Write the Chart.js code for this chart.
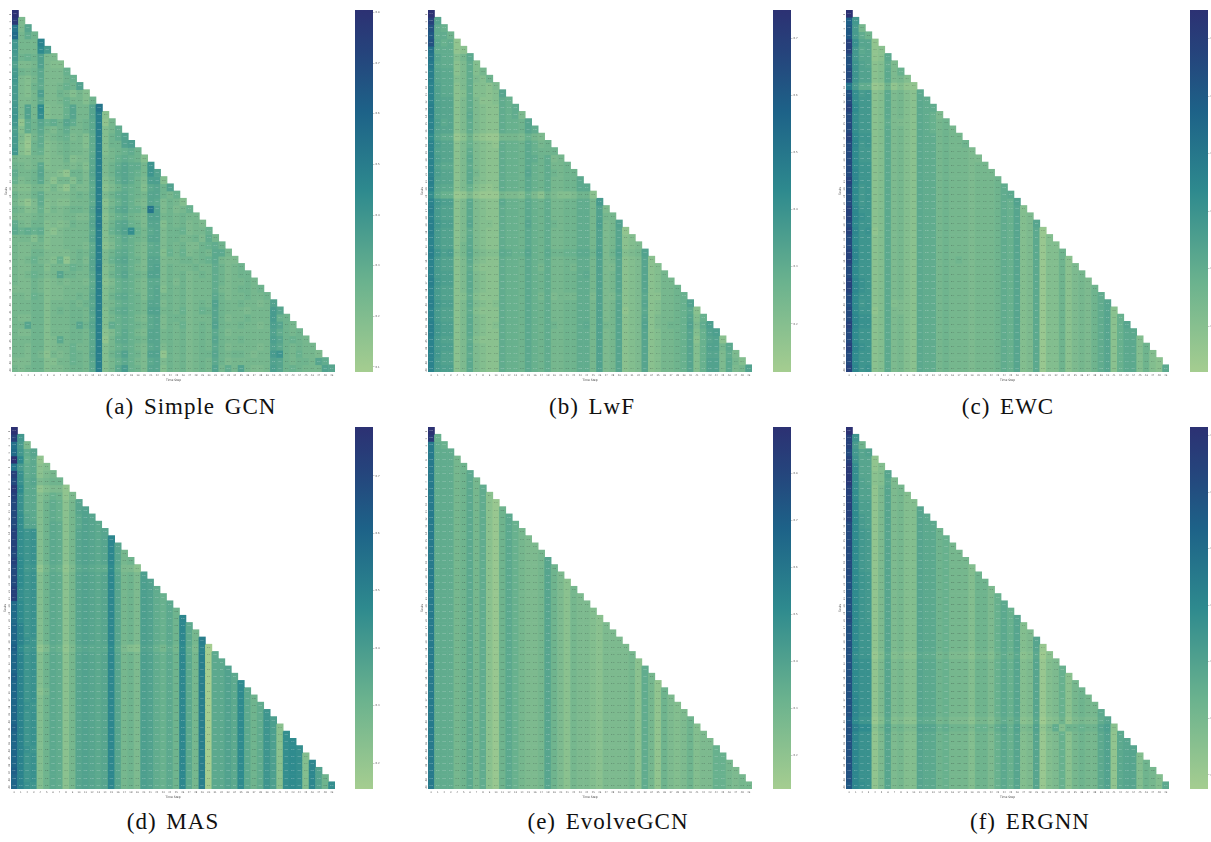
<!DOCTYPE html>
<html>
<head>
<meta charset="utf-8">
<title>Heatmaps</title>
<script src="https://cdn.jsdelivr.net/npm/chart.js@4"></script>
<style>
html, body { margin: 0; padding: 0; background: #fff; }
body { position: relative; width: 1211px; height: 842px; overflow: hidden; }
canvas { position: absolute; }
.caption { position: absolute; font-family: "Liberation Serif", serif; font-size: 23px; color: #111; white-space: nowrap; transform: translateX(-50%); letter-spacing: 1px; word-spacing: 3px; }
</style>
</head>
<body>
<script>
/* one character per cell, base 36: 0 = lightest end of the colour bar, z = darkest */

const simpleGcnRows = [
"z","y6","p6c","r7a8","g777m","g777kf","f898d66","d667d655","f878b6669","g657b66689",
"f658a66798 d","f657e66875 75","f667b66797 758","g6d7k5669c 77cp","h6d7j5669c 77cn4","g3a8c9a8ca 78bn37","e5a8b768a7 78bn57a","f637a67896 75an58ad","f528a56787 75an588de","g538956787 76an5789a8",
"7667756685 66bn679a98 5","8767b56676 75bn68acaa 7h","a778c66538 86cn68bca9 7hd","9678b64775 86bn57aca8 6ee5","6557757537 66an468a98 5bc8d","8668a66667 87bn68ab98 7cc879","7536a56557 77an479b97 6cb6875","8756957678 87co58bc99 7pd68679","7667866677 66bn479a87 6dd787877","a768856568 77co58bc98 6cc5878676",
"b9a9a54677 77bn59bdj9 7bc6889677 9","7775856677 77cn579b98 7cc6887786 a7","7667756677 76an469a97 6ab6878668 9a8","7668866667 87bn68ab97 6bb5979678 7bb7","7679765937 86cn69bc98 6cc6778878 9b766","7668857779 87co57ab97 6cd6877787 7a8678","7679867c88 77bn58ac98 7dd6878678 7a86788","7668756767 76an469a97 6bb6868677 7a867787","6668756677 77bn579a97 6bc5878677 7a7678878","7769856677 87cn58ab98 6bc7878677 7b86778778",
"7778857778 78bn679a98 7cc6878678 7d87787767 d","7778857878 87cn58ab98 7dd7879679 8c87776777 fc","7668857778 87bn579a97 6bc6888677 7c86778777 f98","77c8857778 c8cn5a9a98 7bc6879678 7d87787767 ec87","7668857778 87bn469b97 6cc7878678 7b86777777 da878","7778856b78 87bn37ab98 7cc7878678 7c87787777 ec8987","7768856779 77bn579a97 6bc6878678 7b86777767 db87877","7768747679 87cn58ad98 6dd3878678 8c87887677 fh879776","6668855779 87bn579b97 6bc6878678 7b86777777 dc87887ca","7678856678 87bn57bf98 6cc5878678 7d7a7d7667 ec898777dc"
];

const lwfRows = [
"z","xc","va9","uaa8","vb9a3","qaaa34","pcaa57b","obaa46a5","ncbb46a57","ncbb56a658",
"mdbb46a554 6","mdbb45a554 5c","mdcc46a644 5a9","ndcc46a654 4a9a","ndcc46b654 4a9a6","mebc46a654 4a998c","mdcc46a654 4a998ca","kcaa248432 27776976","mecc469654 3a998b978","mdcc46a654 4a998b9888",
"mecc46b654 4a998ba8a6 7","mdbb46a654 4a998b98a7 78","mecc46b754 4a998c98a8 788","ndcc46b654 4a998b98a7 788b","mcbb469543 4a998b98a7 788bb","jb99236322 2766596486 556884","mgee46b654 4b998b98a7 788aa7f","nfdd46b654 4a998b98a7 788aa7d6","mfdd46b654 4a998b98a7 788aa7d77","ngee46c655 4a998c98a8 788aa7e67d",
"nfdd46a654 4a998b98a7 788aa7d67c 3","mfdd46b654 4a998b98a7 788aa7d67c 45","mfdd47b654 4a998b98a7 788aa7d67c 456","nhef57c765 5ba99c98b8 899bb8e68d 567d","mfdd46b654 4a998b98a7 788aa7d67c 456c4","mfdd46a544 4a998b97a7 787aa7d66c 456c45","mfee46b654 4a998b98a7 788ab7d67c 456c457","ngee46b654 4a998b98a7 788aa7d67c 456c4577","mfdd46b654 4a998b98a7 788aa7d67c 456c45778","mfdd45a544 4a998b97a6 777aa6d66b 456b447789",
"ngee46b654 5a998b98a7 788aa7d67c 456c457789 d","mfdd46a544 4a998b98a7 788aa7d67c 356b457789 b4","mfdd46b654 4a998b98a7 788aa7d67c 456c467789 c59","ngee46b654 5a998b98a8 788ab7d77c 456d467889 d6ae","ngee46b654 4a998b98a7 788aa7d67c 456c457789 c59de","mfdd46a544 4a998b98a7 788aa7d67c 456c457789 c49cd4","mfee46b654 4a998b98a7 788aa7d67c 456c457789 c59dd7b","mgdd46a654 4a998b98a7 788aa7d67c 456c457789 c59cc6a6","mfdd46b654 4a998b98a7 788aa7d67c 456c457789 c59dd6b75","mfee46b654 4a998b98a7 788aa7d67c 456c457789 c59dd6b67d"
];

const ewcRows = [
"z","tg","uf7","ufa8","xicc3","xgbc34","vgcc34b","vhdc45a6","whdd45b69","whdd45b675",
"pfaa238353 3","vjfg45b675 4b","wjgg45b675 4ba","xkgg45b675 4baa","wjgg45b675 4ba96","wjgg45a665 4ba978","wjgg45b675 4ba9787","xkhh45b675 4baa7877","wlgh45b675 4baa78778","wkgg45b675 4baa787776",
"wkgg45b675 4baa787776 6","wkhh45b675 4baa787776 77","wlhh45b675 4baa787776 777","xlhh45b675 4baa787776 7778","wkgh45b675 4baa787776 7778a","wkgh45b675 4baa787776 7778ab","wkgh45b675 4baa787776 7778a9d","xlhh45b675 4baa787776 7778a9c5","xlih45b675 4baa787776 7778a9c56","wkhh45b675 4baa787776 7778a9c56c",
"xlhi35b675 4baa787776 7778a9c56b 2","wkhh45b675 4baa787776 7778a9c56b 25","wkhh45b675 4baa787776 7778a9c56b 255","xlhh45b675 4baa787776 7778a9c56b 2558","xlhh45b675 4baa787876 7778a9c56b 25584","wkhh45b675 4baa787776 7778a9c56b 255846","wkhh45b675 4baa787776 7778a9c56b 2558467","xlih45b675 4baa787776 7778a9c56b 25584676","xlih45b675 4baa787776 7778a9c56b 255846768","wkhh45b675 4baa787776 7778a9c56b 255846768a",
"vkgh45b565 4baa787776 7778a9c56b 255846768a c","wkhh35b665 4baa787776 7778a9c56b 255846768a c4","wlii45b675 4baa787776 7778a9c56b 255846768a c49","xlii45b675 4baa787776 7778a9c56b 255846768a c49c","wkhh45b675 4baa787776 7778a9c56b 255846768a c49bb","wkhh45b675 4baa787776 7778a9c56b 255846768a c49bb5","xlih45b675 4baa787776 7778a9c56b 255846768a c49bb58","wkhh45b675 4baa787776 7778a9c56b 255846768a c49bb585","wkhh45b675 4baa787776 7778a9c56b 255846768a c49bb5854","xlhi45b675 4baa787776 7778a9c56b 255846768a c49bb5854b"
];

const masRows = [
"z","xg","qf6","rgac","zk9b3","pfab45","xiab467","wibc6788","ykbb35663","xibb579836",
"wibb58a947 c","wibb58a947 cd","wjcb58a947 bdc","wjcc58ba47 bdcb","xjhi58ba47 cdcbc","xjhi58ba47 cdcbcl","xjhi58ba47 cdcbclc","wjhi58ba47 cdcbclc7","xkhi58ba47 cdcbclc78","wkgh37a936 bcbaakb664",
"wkhi58ba47 cdcbclc786 e","wkhi58ba47 cdcbclc786 ed","xjhi58ba47 cdcbclc786 eda","xjhi58ba47 cdcbclc786 eda9","rkhi58ba47 cdcbclc786 eda9b","rkhi58ba47 cdcbclc786 eda9b8","rkhi58ba47 cdcbclc786 eda9b8l","smhi58ba47 cdcbclc786 eda9b8lb","smhi58ba47 cdcbclc786 eda9b8lb7","smih58ba47 cdcbclc786 eda9b8lb7n",
"tkgh36a936 bcbbbkb654 dc97a7ka6m 0","smhi58ba47 cdcbclc786 eda9b8lb7n 0b","smhi58ba47 cdcbclc786 eda9b8lb7n 0bb","smhi58ba47 cdcbclc786 eda9b8lb7n 0bbd","tmhi58ba47 cdcbclc786 eda9b8lb7n 0bbdb","smhi58ba47 cdcbclc786 eda9b8lb7n 0bbdbk","smhi47ba47 cdcbclc786 eda9b8lb7n 0bbdbkb","smhi58ba47 cdcbclc786 eda9b8lb7n 0bbdbkb8","smih58ba47 cdcbclc786 eda9b8lb7n 0bbdbkb8a","smhi58ba47 cdcbclc786 eda9b8lb7n 0bbdbkb8ah",
"smhi58ba47 cdcbclc786 eda9b8lb7n 0bbdbkb8ah e","tmhi58ba47 cdcbclc786 eda9b8lb7n 0bbdbkb8ah e4","smhi58ba47 cdcbclc786 eda9b8lb7n 0bbdbkb8ah e4j","smhi58ba47 cdcbclc786 eda9b8lb7n 0bbdbkb8ah e4jk","smih58ba47 cdcbclc786 eda9b8lb7n 0bbdbkb8ah e4jkj","smhi58ba47 cdcbclc786 eda9b8lb7n 0bbdbkb8ah e4jkj5","smhi58ba47 cdcbclc786 eda9b8lb7n 0bbdbkb8ah e4jkj5l","tmhi58ba47 cdcbclc786 eda9b8lb7n 0bbdbkb8ah e4jkj5ld","smhi58ba47 cdcbclc786 eda9b8lb7n 0bbdbkb8ah e4jkj5ld8","smih58ba47 cdcbclc786 eda9b8lb7n 0bbdbkb8ah e4jkj5ld8j"
];

const evolveGcnRows = [
"z","y9","oa9","oaaa","oaaa7","oaaa78","oaaa78b","oaaa78b7","oaaa78b7a","oaaa78b7a4",
"oaaa78b7a4 2","oaaa78b7a4 28","oaaa78b7a4 28b","oaaa78b7a4 28b9","oaaa78b7a4 28b97","oaaa78b7a4 28b976","oaaa78b7a4 28b9766","oaaa78b7a4 28b97667","oaaa78b7a4 28b97667c","oaaa78b7a4 28b97667c8",
"oaaa78b7a4 28b97667c8 6","oaaa78b7a4 28b97667c8 64","oaaa78b7a4 28b97667c8 647","oaaa78b7a4 28b97667c8 6476","oaaa78b7a4 28b97667c8 64766","oaaa78b7a4 28b97667c8 647665","oaaa78b7a4 28b97667c8 6476654","oaaa78b7a4 28b97667c8 64766546","oaaa78b7a4 28b97667c8 647665466","oaaa78b7a4 28b97667c8 6476654666",
"oaaa78b7a4 28b97667c8 6476654666 6","oaaa78b7a4 28b97667c8 6476654666 67","oaaa78b7a4 28b97667c8 6476654666 674","oaaa78b7a4 28b97667c8 6476654666 674a","oaaa78b7a4 28b97667c8 6476654666 674a7","oaaa78b7a4 28b97667c8 6476654666 674a73","oaaa78b7a4 28b97667c8 6476654666 674a738","oaaa78b7a4 28b97667c8 6476654666 674a7386","oaaa78b7a4 28b97667c8 6476654666 674a73865","oaaa78b7a4 28b97667c8 6476654666 674a738656",
"oaaa78b7a4 28b97667c8 6476654666 674a738656 8","oaaa78b7a4 28b97667c8 6476654666 674a738656 85","oaaa78b7a4 28b97667c8 6476654666 674a738656 856","oaaa78b7a4 28b97667c8 6476654666 674a738656 8566","oaaa78b7a4 28b97667c8 6476654666 674a738656 85669","oaaa78b7a4 28b97667c8 6476654666 674a738656 856699","oaaa78b7a4 28b97667c8 6476654666 674a738656 8566997","oaaa78b7a4 28b97667c8 6476654666 674a738656 85669976","oaaa78b7a4 28b97667c8 6476654666 674a738656 856699767","oaaa78b7a4 28b97667c8 6476654666 674a738656 8566997677"
];

const ergnnRows = [
"z","xh","xf8","wgcd","xhcc3","yjcc35","yjcc45c","yjdc45b6","xjdd36c67","xjdd36c675",
"xkee36c675 5","xkee36c675 5c","xkfe36c675 5cb","wkfe36c675 5cbb","wkgf36c675 5cbb8","wkgf36c675 5cbb89","wkgf36c675 5cbb897","wkgf36c675 5cbb8977","wkgf36c675 5cbb89777","wkgf36c675 5cbb897775",
"wkhg36c675 5cbb897775 8","vkhg36c675 5cbb897775 88","vkhg36c675 5cbb897775 886","vkhg36c675 5cbb897775 8869","vkhg36c675 5cbb897775 8869b","vkhg36c675 5cbb897775 8869b9","wkhg36c675 5cbb897775 8869b9c","vkhh36c675 5cbb897775 8869b9c5","vkhh36c675 5cbb897775 8869b9c56","vkhh36c675 5cbb897775 8869b9c56c",
"vkhh36c675 5cbb897775 8869b9c56c 2","vjhh25b564 4baa786664 7758a8b45b 14","vkii36c675 5cbb897775 8869b9c56c 256","vkii36c675 5cbb897775 8869b9c56c 2569","vkii36c675 5cbb897775 8869b9c56c 25694","vkii36c675 5cbb897775 8869b9c56c 256947","vkii36c675 5cbb897775 8869b9c56c 2569478","vlii36c675 5cbb897775 8869b9c56c 25694787","vlii36c675 5cbb897775 8869b9c56c 256947877","vlii36c675 5cbb897775 8869b9c56c 256947877b",
"ukhh25b564 4baa786664 7758a8b45b 145836766a c","vnkk47d786 6dcc9a8886 997ac9d67d 36a58898 8c e4","vlii36c675 5cbb897775 8869b9c56c 256947877b d3b","vlii36c675 5cbb897775 8869b9c56c 256947877b d3bc","vlii36c675 5cbb897775 8869b9c56c 256947877b d3bcc","vlii36c675 5cbb897775 8869b9c56c 256947877b d3bcc5","vlii36c675 5cbb897775 8869b9c56c 256947877b d3bcc58","vlii36c675 5cbb897775 8869b9c56c 256947877b d3bcc587","vlii36c675 5cbb897775 8869b9c56c 256947877b d3bcc5875","ulji36c675 5cbb897775 8869b9c56c 256947877b d3bcc5875b"
];

/* colour bar ranges and ticks */
const simpleGcnRange = [0.09, 0.805];
const lwfRange = [0.116, 0.749];
const ewcRange = [0.12, 0.75];
const masRange = [0.155, 0.785];
const evolveGcnRange = [0.128, 0.898];
const ergnnRange = [0.175, 0.815];

const simpleGcnBarTicks = [0.1, 0.2, 0.3, 0.4, 0.5, 0.6, 0.7, 0.8];
const lwfBarTicks = [0.2, 0.3, 0.4, 0.5, 0.6, 0.7];
const ewcBarTicks = [0.2, 0.3, 0.4, 0.5, 0.6, 0.7];
const masBarTicks = [0.2, 0.3, 0.4, 0.5, 0.6, 0.7];
const evolveGcnBarTicks = [0.2, 0.3, 0.4, 0.5, 0.6, 0.7, 0.8];
const ergnnBarTicks = [0.2, 0.3, 0.4, 0.5, 0.6, 0.7, 0.8];

const stepLabels = Array.from({length: 50}, (_, i) => String(i));

/* crest palette */
const crestStops = [
[0, 165, 205, 144],
[0.25, 106, 178, 142],
[0.5, 46, 138, 142],
[0.72, 29, 98, 136],
[0.88, 37, 68, 124],
[1, 44, 49, 115]
];

/* what each character stands for on the colour bar */
const levelPairs = [[0, 0], [10, 0.286], [23, 0.56], [28, 0.7], [32, 0.85], [35, 1]];

function charLevel(ch){
  let n = parseInt(ch, 36);
  for(let i = 1; i < levelPairs.length; i++){
    let a = levelPairs[i-1], b = levelPairs[i];
    if(n <= b[0]) return a[1] + (b[1] - a[1]) * (n - a[0]) / (b[0] - a[0]);
  }
  return 1;
}

function crest(t){
  for(let i = 1; i < crestStops.length; i++){
    let a = crestStops[i-1], b = crestStops[i];
    if(t <= b[0]){
      let f = (t - a[0]) / (b[0] - a[0]);
      return `rgb(${a[1]+(b[1]-a[1])*f},${a[2]+(b[2]-a[2])*f},${a[3]+(b[3]-a[3])*f})`;
    }
  }
  return "rgb(44,49,115)";
}

function parseRows(rows){
  return rows.map(r => r.replace(/ /g, "").split("").map(charLevel));
}

function noScalePadding(s){
  s.paddingTop = 0;
  s.paddingBottom = 0;
  s.paddingLeft = 0;
  s.paddingRight = 0;
}

/* tiny value text inside each cell */
const cellText = {
  id: "cellText",
  afterDatasetsDraw(chart){
    const ctx = chart.ctx;
    const o = chart.options.plugins.cellText;
    ctx.save();
    ctx.font = "1.5px 'DejaVu Sans'";
    ctx.textAlign = "center";
    ctx.textBaseline = "middle";
    chart.data.datasets.forEach((ds, r) => {
      chart.getDatasetMeta(r).data.forEach((bar, c) => {
        let t = o.levels[r][c];
        if(t === undefined) return;
        ctx.fillStyle = t > 0.25 ? "rgba(235,240,240,0.6)" : "rgba(40,50,50,0.6)";
        let v = o.range[0] + t * (o.range[1] - o.range[0]);
        ctx.fillText(v.toFixed(2), bar.x, (bar.y + bar.base) / 2);
      });
    });
    ctx.restore();
  }
};

function drawHeatmap(p){
  let canvas = document.createElement("canvas");
  let w = p.right - p.left + 8, h = p.bottom - p.top + 10;
  canvas.style.left = (p.left - 8) + "px";
  canvas.style.top = p.top + "px";
  canvas.style.width = w + "px";
  canvas.style.height = h + "px";
  canvas.width = w;
  canvas.height = h;
  document.body.appendChild(canvas);

  let levels = parseRows(p.rows);

  let datasets = levels.map((row, r) => ({
    data: stepLabels.map((_, c) => c < row.length ? [r, r + 1] : null),
    backgroundColor: stepLabels.map((_, c) => c < row.length ? crest(row[c]) : "transparent"),
    borderWidth: 0,
    barPercentage: 1,
    categoryPercentage: 1,
    grouped: false
  }));

  new Chart(canvas, {
    type: "bar",
    data: { labels: stepLabels, datasets: datasets },
    plugins: [cellText],
    options: {
      responsive: false,
      animation: false,
      devicePixelRatio: 1,
      layout: { padding: 0 },
      plugins: {
        legend: { display: false },
        tooltip: { enabled: false },
        cellText: { levels: levels, range: p.range }
      },
      scales: {
        x: {
          afterFit: s => { s.height = 10; noScalePadding(s); },
          grid: { display: false, drawTicks: false },
          border: { display: false },
          ticks: { autoSkip: false, maxRotation: 0, minRotation: 0, padding: 1.5, color: "#555", font: { size: 2.4, family: "DejaVu Sans" } },
          title: { display: true, text: "Time Step", color: "#444", padding: 0, font: { size: 3, family: "DejaVu Sans" } }
        },
        y: {
          reverse: true,
          min: 0,
          max: 50,
          afterFit: s => { s.width = 8; noScalePadding(s); },
          afterBuildTicks: s => { s.ticks = stepLabels.map((_, i) => ({ value: i + 0.5 })); },
          grid: { display: false, drawTicks: false },
          border: { display: false },
          ticks: { autoSkip: false, maxRotation: 90, minRotation: 90, padding: 1.5, color: "#555", font: { size: 2.4, family: "DejaVu Sans" }, callback: v => stepLabels[Math.round(v - 0.5)] },
          title: { display: true, text: "Tasks", color: "#444", padding: 0, font: { size: 3, family: "DejaVu Sans" } }
        }
      }
    }
  });
}

function drawColorBar(p){
  let canvas = document.createElement("canvas");
  let w = 18 + 14, h = p.bottom - p.top;
  canvas.style.left = p.bar + "px";
  canvas.style.top = p.top + "px";
  canvas.style.width = w + "px";
  canvas.style.height = h + "px";
  canvas.width = w;
  canvas.height = h;
  document.body.appendChild(canvas);

  new Chart(canvas, {
    type: "bar",
    data: {
      labels: [""],
      datasets: [{
        data: [p.range],
        barPercentage: 1,
        categoryPercentage: 1,
        borderWidth: 0,
        backgroundColor: ctx => {
          let area = ctx.chart.chartArea;
          if(!area) return "#000";
          let g = ctx.chart.ctx.createLinearGradient(0, area.bottom, 0, area.top);
          crestStops.forEach(s => g.addColorStop(s[0], crest(s[0] === 0 ? 0.0001 : s[0])));
          return g;
        }
      }]
    },
    options: {
      responsive: false,
      animation: false,
      devicePixelRatio: 1,
      layout: { padding: 0 },
      plugins: { legend: { display: false }, tooltip: { enabled: false } },
      scales: {
        x: { display: false },
        y: {
          position: "right",
          min: p.range[0],
          max: p.range[1],
          afterFit: s => { s.width = 14; noScalePadding(s); },
          afterBuildTicks: s => { s.ticks = p.barTicks.map(v => ({ value: v })); },
          grid: { display: true, drawOnChartArea: false, drawTicks: true, tickLength: 1.5, lineWidth: 0.4, color: "#777" },
          border: { display: false },
          ticks: { padding: 1, color: "#555", font: { size: 2.6, family: "DejaVu Sans" }, callback: v => v.toFixed(1) }
        }
      }
    }
  });
}

const panels = [
  { rows: simpleGcnRows, range: simpleGcnRange, barTicks: simpleGcnBarTicks, left: 12, right: 335, top: 10, bottom: 372, bar: 355, caption: "(a) Simple GCN", capX: 191, capY: 394 },
  { rows: lwfRows, range: lwfRange, barTicks: lwfBarTicks, left: 428, right: 752, top: 10, bottom: 372, bar: 773, caption: "(b) LwF", capX: 592, capY: 394 },
  { rows: ewcRows, range: ewcRange, barTicks: ewcBarTicks, left: 846, right: 1169, top: 10, bottom: 372, bar: 1190, caption: "(c) EWC", capX: 1008, capY: 394 },
  { rows: masRows, range: masRange, barTicks: masBarTicks, left: 11, right: 335, top: 427, bottom: 789, bar: 355, caption: "(d) MAS", capX: 173, capY: 809 },
  { rows: evolveGcnRows, range: evolveGcnRange, barTicks: evolveGcnBarTicks, left: 428, right: 752, top: 427, bottom: 789, bar: 773, caption: "(e) EvolveGCN", capX: 608, capY: 809 },
  { rows: ergnnRows, range: ergnnRange, barTicks: ergnnBarTicks, left: 846, right: 1169, top: 427, bottom: 789, bar: 1190, caption: "(f) ERGNN", capX: 1030, capY: 809 }
];

panels.forEach(p => {
  drawHeatmap(p);
  drawColorBar(p);
  let cap = document.createElement("div");
  cap.className = "caption";
  cap.textContent = p.caption;
  cap.style.left = p.capX + "px";
  cap.style.top = p.capY + "px";
  document.body.appendChild(cap);
});
</script>
</body>
</html>
